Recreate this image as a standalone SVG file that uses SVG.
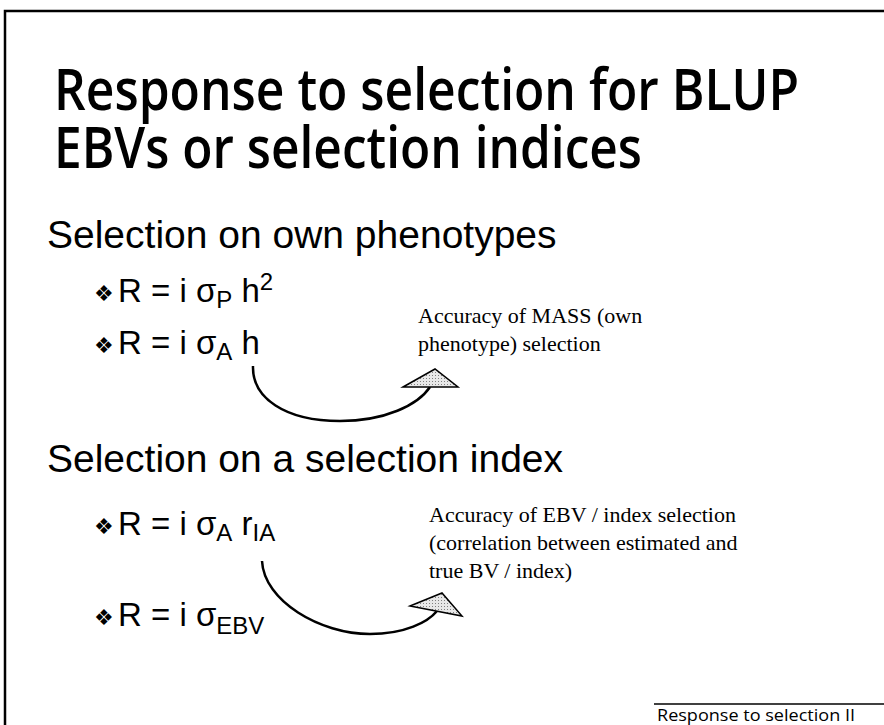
<svg xmlns="http://www.w3.org/2000/svg" width="884" height="725" viewBox="0 0 884 725">
<defs>
<pattern id="stip" width="3" height="3" patternUnits="userSpaceOnUse">
<rect width="3" height="3" fill="#e8e8e8"/>
<rect width="1" height="1" fill="#808080"/>
</pattern>
</defs>
<style>
.title{font-family:"Open Sans","Liberation Sans",sans-serif;font-weight:600;font-size:58px;fill:#000}
.head{font-family:"Liberation Sans",Arial,sans-serif;font-size:39px;fill:#000}
.eq{font-family:"Liberation Sans",Arial,sans-serif;font-size:33px;fill:#000}
.sub{font-size:24px}
.bul{font-family:"DejaVu Sans",sans-serif;font-size:22px;fill:#000}
.lab{font-family:"Liberation Serif","Times New Roman",serif;font-size:22px;fill:#000}
.foot{font-family:"Open Sans","Liberation Sans",sans-serif;font-size:17px;fill:#000}
.frame{stroke:#000;stroke-width:2.5;fill:none}
.shaft{stroke:#000;stroke-width:2.5;fill:none}
.head-tri{fill:url(#stip);stroke:#000;stroke-width:1.5;stroke-linejoin:miter}
</style>
<rect width="884" height="725" fill="#fff"/>
<g id="frame">
<path class="frame" d="M5,725 V11 H884"/>
<path stroke="#000" stroke-width="1.5" d="M654,704 H884"/>
</g>
<g id="title">
<text class="title" x="54" y="110" textLength="745" lengthAdjust="spacingAndGlyphs">Response to selection for BLUP</text>
<text class="title" x="54" y="168" textLength="588" lengthAdjust="spacingAndGlyphs">EBVs or selection indices</text>
</g>
<g id="section1">
<text class="head" x="47" y="248">Selection on own phenotypes</text>
<text class="bul" x="94" y="301">❖</text>
<text class="eq" x="118" y="302">R = i σ<tspan class="sub" dy="6">P</tspan><tspan dy="-6"> h</tspan><tspan class="sub" dy="-12">2</tspan></text>
<text class="bul" x="94" y="353">❖</text>
<text class="eq" x="118" y="354">R = i σ<tspan class="sub" dy="6">A</tspan><tspan dy="-6"> h</tspan></text>
</g>
<g id="label1">
<text class="lab" x="418" y="323">Accuracy of MASS (own</text>
<text class="lab" x="418" y="351">phenotype) selection</text>
</g>
<g id="section2">
<text class="head" x="47" y="472">Selection on a selection index</text>
<text class="bul" x="94" y="534">❖</text>
<text class="eq" x="118" y="535">R = i σ<tspan class="sub" dy="6">A</tspan><tspan dy="-6"> r</tspan><tspan class="sub" dy="6">IA</tspan></text>
<text class="bul" x="94" y="625">❖</text>
<text class="eq" x="118" y="626">R = i σ<tspan class="sub" dy="8">EBV</tspan></text>
</g>
<g id="label2">
<text class="lab" x="429" y="522">Accuracy of EBV / index selection</text>
<text class="lab" x="429" y="550">(correlation between estimated and</text>
<text class="lab" x="429" y="578">true BV / index)</text>
</g>
<g id="connectors">
<path class="shaft" d="M253,366 C252,398 285,421 340,421 C385,421 418,405 430,387"/>
<polygon class="head-tri" points="403,387 435,369 458,387"/>
<path class="shaft" d="M262,561 C264,601 320,634 370,634 C405,634 428,622 437,611"/>
<polygon class="head-tri" points="410,606 442,593 462,616"/>
</g>
<g id="footer">
<text class="foot" x="657" y="721" textLength="198" lengthAdjust="spacingAndGlyphs">Response to selection II</text>
</g>
</svg>
